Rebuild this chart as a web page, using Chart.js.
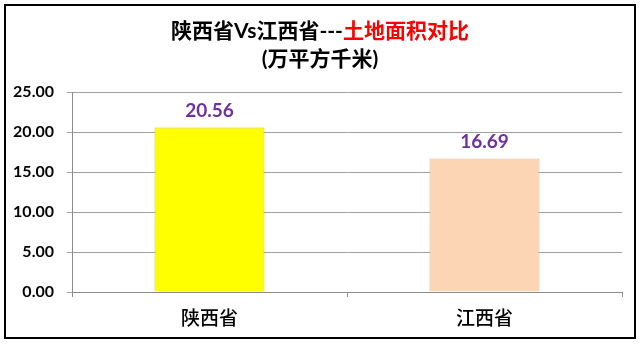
<!DOCTYPE html>
<html>
<head>
<meta charset="utf-8">
<script src="https://cdn.jsdelivr.net/npm/chart.js@4.4.1/dist/chart.umd.min.js"></script>
<style>
html,body{margin:0;padding:0;background:#fff;}
#wrap{position:relative;width:640px;height:344px;}
canvas{display:block;}
</style>
</head>
<body>
<div id="wrap"><canvas id="c" width="640" height="344"></canvas></div>
<script>
const categories = ['陕西省', '江西省'];
const areaValues = [20.56, 16.69];
const barColors = ['#FFFF00', '#FCD5B4'];
const barBorders = ['#CFCF00', '#DDB58F'];
const titleParts = [
  [{text: '陕西省Vs江西省---', color: '#000000'}, {text: '土地面积对比', color: '#FF0000'}],
  [{text: '(万平方千米)', color: '#000000'}]
];
const yTickMax = 25;
const yTickStep = 5;

const FONT = "Lato, 'Noto Sans CJK SC', sans-serif";

const framePlugin = {
  id: 'frame',
  beforeDraw(chart) {
    const ctx = chart.ctx;
    ctx.save();
    ctx.fillStyle = '#ffffff';
    ctx.fillRect(0, 0, chart.width, chart.height);
    ctx.strokeStyle = '#000000';
    ctx.lineWidth = 2;
    ctx.strokeRect(5, 5, 630, 333);
    ctx.restore();
  },
  afterDraw(chart) {
    const ctx = chart.ctx;
    ctx.save();
    ctx.textBaseline = 'middle';
    const ys = [31, 59];
    ctx.font = "bold 21px " + FONT;
    titleParts.forEach((parts, i) => {
      let total = 0;
      parts.forEach(p => total += ctx.measureText(p.text).width);
      let x = 320 - total / 2;
      parts.forEach(p => {
        ctx.fillStyle = p.color;
        ctx.textAlign = 'left';
        ctx.fillText(p.text, x, ys[i]);
        x += ctx.measureText(p.text).width;
      });
    });
    const meta = chart.getDatasetMeta(0);
    ctx.font = "bold 19px " + FONT;
    ctx.fillStyle = '#7030A0';
    ctx.textAlign = 'center';
    ctx.textBaseline = 'bottom';
    meta.data.forEach((bar, i) => {
      ctx.fillText(areaValues[i].toFixed(2), bar.x, bar.y - 7);
    });
    ctx.restore();
  }
};

new Chart(document.getElementById('c'), {
  type: 'bar',
  data: {
    labels: categories,
    datasets: [{
      data: areaValues,
      backgroundColor: barColors,
      borderColor: barBorders,
      borderWidth: 1,
      barPercentage: 0.4,
      categoryPercentage: 1.0
    }]
  },
  options: {
    responsive: false,
    animation: false,
    devicePixelRatio: 1,
    layout: {padding: {top: 92, right: 18, bottom: 0, left: 0}},
    plugins: {legend: {display: false}, title: {display: false}, tooltip: {enabled: false}},
    scales: {
      x: {
        offset: true,
        grid: {offset: true, drawOnChartArea: false, drawTicks: true, tickLength: 5, color: '#8c8c8c'},
        border: {color: '#8c8c8c', width: 1},
        ticks: {color: '#000', font: {family: "'Noto Sans CJK SC', sans-serif", size: 19, weight: '500'}, padding: 9},
        afterFit(scale) { scale.height = 52; }
      },
      y: {
        min: 0, max: yTickMax,
        grid: {color: '#a0a0a0', tickLength: 5, drawTicks: true},
        border: {color: '#8c8c8c', width: 1},
        ticks: {stepSize: yTickStep, color: '#000', font: {family: FONT, size: 16, weight: 'bold'}, padding: 13,
          callback: v => Number(v).toFixed(2)},
        afterFit(scale) { scale.width = 72; }
      }
    }
  },
  plugins: [framePlugin]
});
</script>
</body>
</html>
